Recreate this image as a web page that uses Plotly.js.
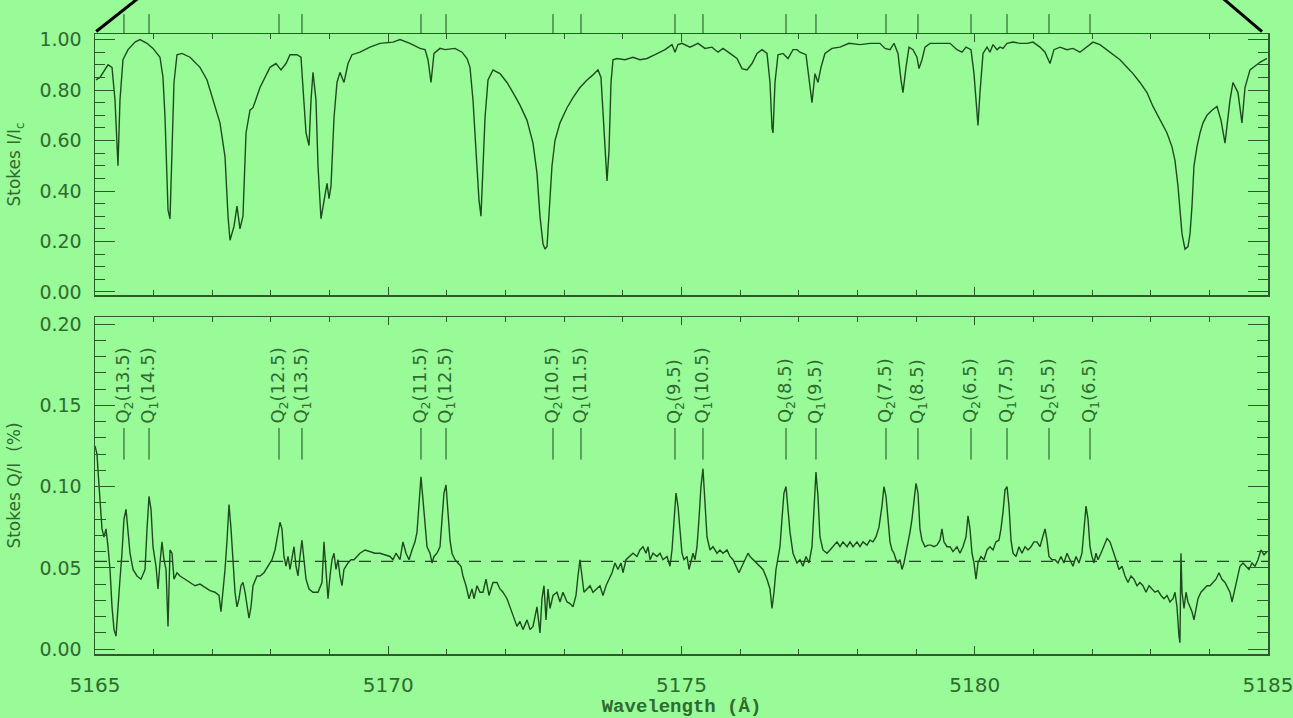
<!DOCTYPE html>
<html>
<head>
<meta charset="utf-8">
<script src="https://cdn.plot.ly/plotly-3.0.1.min.js"></script>
<style>html,body{margin:0;padding:0;background:palegreen;}</style>
</head>
<body>
<div id="chart" style="width:1293px;height:718px;"></div>
<script>
// ---- Stokes I / Ic (upper panel) ----
const topWl = [
5165.017,5165.085,5165.222,5165.290,5165.341,5165.392,5165.426,5165.477,5165.563,5165.682,
5165.767,5165.887,5165.989,5166.108,5166.159,5166.194,5166.245,5166.279,5166.313,5166.347,
5166.398,5166.483,5166.620,5166.790,5166.910,5167.012,5167.131,5167.217,5167.268,5167.302,
5167.370,5167.421,5167.472,5167.523,5167.575,5167.643,5167.694,5167.813,5167.984,5168.086,
5168.171,5168.257,5168.325,5168.444,5168.512,5168.546,5168.598,5168.649,5168.683,5168.717,
5168.768,5168.802,5168.853,5168.904,5168.956,5168.990,5169.024,5169.075,5169.126,5169.177,
5169.246,5169.314,5169.382,5169.518,5169.689,5169.859,5170.081,5170.200,5170.371,5170.541,
5170.627,5170.678,5170.729,5170.780,5170.882,5170.968,5171.138,5171.258,5171.343,5171.394,
5171.445,5171.496,5171.547,5171.581,5171.616,5171.650,5171.701,5171.786,5171.905,5172.025,
5172.127,5172.246,5172.366,5172.468,5172.536,5172.587,5172.639,5172.673,5172.707,5172.741,
5172.792,5172.843,5172.928,5173.048,5173.150,5173.269,5173.389,5173.491,5173.576,5173.627,
5173.679,5173.730,5173.764,5173.798,5173.832,5173.900,5174.036,5174.173,5174.292,5174.412,
5174.548,5174.719,5174.838,5174.889,5174.940,5175.008,5175.145,5175.281,5175.400,5175.520,
5175.622,5175.708,5175.827,5175.946,5176.032,5176.117,5176.202,5176.287,5176.373,5176.458,
5176.509,5176.543,5176.560,5176.594,5176.645,5176.730,5176.816,5176.901,5176.969,5177.020,
5177.123,5177.191,5177.225,5177.276,5177.327,5177.378,5177.446,5177.566,5177.702,5177.856,
5178.043,5178.214,5178.384,5178.470,5178.555,5178.623,5178.691,5178.742,5178.776,5178.828,
5178.879,5178.947,5179.015,5179.049,5179.100,5179.152,5179.237,5179.407,5179.578,5179.697,
5179.783,5179.851,5179.936,5179.987,5180.021,5180.055,5180.089,5180.141,5180.209,5180.260,
5180.311,5180.379,5180.430,5180.481,5180.550,5180.652,5180.771,5180.891,5180.993,5181.112,
5181.198,5181.283,5181.351,5181.453,5181.573,5181.675,5181.794,5181.914,5182.016,5182.135,
5182.255,5182.357,5182.476,5182.596,5182.698,5182.817,5182.937,5183.039,5183.158,5183.278,
5183.363,5183.414,5183.465,5183.499,5183.534,5183.585,5183.636,5183.670,5183.704,5183.738,
5183.789,5183.841,5183.892,5183.960,5184.045,5184.130,5184.199,5184.267,5184.352,5184.403,
5184.488,5184.556,5184.608,5184.693,5184.863,5184.983
];
const topI = [
0.84,0.85,0.90,0.89,0.76,0.50,0.76,0.92,0.96,0.99,
1.00,0.985,0.965,0.93,0.85,0.69,0.325,0.29,0.56,0.83,
0.94,0.945,0.93,0.89,0.84,0.76,0.67,0.535,0.30,0.205,
0.26,0.34,0.25,0.30,0.63,0.72,0.73,0.81,0.89,0.905,
0.88,0.905,0.94,0.94,0.93,0.81,0.63,0.58,0.76,0.87,
0.76,0.50,0.29,0.36,0.43,0.37,0.42,0.69,0.83,0.87,
0.83,0.905,0.94,0.95,0.97,0.985,0.99,1.00,0.985,0.965,
0.96,0.92,0.83,0.945,0.965,0.96,0.965,0.95,0.925,0.89,
0.76,0.56,0.365,0.30,0.50,0.69,0.84,0.88,0.865,0.83,
0.79,0.74,0.68,0.59,0.47,0.30,0.19,0.17,0.18,0.30,
0.50,0.60,0.67,0.73,0.77,0.81,0.84,0.86,0.88,0.85,
0.65,0.44,0.56,0.83,0.92,0.925,0.92,0.93,0.92,0.925,
0.94,0.96,0.98,0.95,0.98,0.985,0.97,0.985,0.965,0.97,
0.95,0.965,0.945,0.925,0.885,0.88,0.905,0.945,0.96,0.945,
0.83,0.65,0.63,0.83,0.94,0.945,0.925,0.96,0.96,0.95,
0.94,0.81,0.75,0.865,0.83,0.89,0.945,0.965,0.97,0.985,
0.98,0.985,0.985,0.965,0.96,0.985,0.945,0.84,0.79,0.89,
0.97,0.96,0.93,0.885,0.92,0.97,0.985,0.985,0.985,0.96,
0.95,0.97,0.96,0.865,0.76,0.66,0.79,0.945,0.97,0.95,
0.98,0.96,0.97,0.965,0.985,0.99,0.985,0.985,0.99,0.97,
0.95,0.905,0.96,0.97,0.96,0.965,0.95,0.97,0.99,0.98,
0.96,0.94,0.92,0.89,0.865,0.83,0.79,0.735,0.68,0.63,
0.575,0.52,0.42,0.34,0.23,0.17,0.18,0.23,0.34,0.50,
0.575,0.63,0.67,0.70,0.72,0.735,0.68,0.59,0.76,0.83,
0.79,0.67,0.81,0.88,0.91,0.925
];

// ---- Stokes Q / I in % (lower panel) ----
const botWl = [
5165.000,5165.034,5165.051,5165.085,5165.119,5165.153,5165.188,5165.222,5165.256,5165.290,
5165.324,5165.358,5165.392,5165.426,5165.460,5165.494,5165.529,5165.563,5165.597,5165.648,
5165.716,5165.784,5165.853,5165.887,5165.921,5165.955,5165.989,5166.040,5166.074,5166.108,
5166.142,5166.176,5166.211,5166.245,5166.279,5166.313,5166.347,5166.398,5166.449,5166.535,
5166.620,5166.705,5166.790,5166.876,5166.961,5167.046,5167.114,5167.148,5167.182,5167.217,
5167.251,5167.285,5167.319,5167.353,5167.387,5167.421,5167.455,5167.489,5167.523,5167.558,
5167.592,5167.626,5167.660,5167.694,5167.762,5167.813,5167.881,5167.950,5168.018,5168.069,
5168.103,5168.154,5168.188,5168.222,5168.257,5168.291,5168.325,5168.359,5168.393,5168.427,
5168.461,5168.495,5168.529,5168.563,5168.598,5168.649,5168.717,5168.802,5168.870,5168.904,
5168.938,5168.973,5169.007,5169.041,5169.075,5169.109,5169.143,5169.177,5169.211,5169.245,
5169.280,5169.314,5169.365,5169.416,5169.467,5169.518,5169.604,5169.689,5169.774,5169.859,
5169.945,5170.030,5170.081,5170.132,5170.200,5170.251,5170.303,5170.354,5170.405,5170.456,
5170.490,5170.524,5170.558,5170.592,5170.627,5170.661,5170.712,5170.746,5170.780,5170.831,
5170.882,5170.916,5170.950,5170.985,5171.019,5171.053,5171.087,5171.138,5171.189,5171.240,
5171.274,5171.326,5171.377,5171.428,5171.462,5171.513,5171.564,5171.615,5171.667,5171.718,
5171.786,5171.854,5171.905,5171.956,5172.025,5172.076,5172.127,5172.195,5172.246,5172.297,
5172.366,5172.417,5172.468,5172.536,5172.587,5172.621,5172.655,5172.690,5172.724,5172.758,
5172.809,5172.877,5172.928,5172.979,5173.048,5173.099,5173.150,5173.201,5173.235,5173.269,
5173.303,5173.337,5173.389,5173.440,5173.491,5173.559,5173.610,5173.661,5173.713,5173.764,
5173.815,5173.866,5173.917,5173.968,5174.002,5174.054,5174.122,5174.173,5174.241,5174.292,
5174.343,5174.395,5174.429,5174.463,5174.514,5174.582,5174.633,5174.684,5174.753,5174.804,
5174.838,5174.872,5174.906,5174.940,5174.974,5175.008,5175.042,5175.094,5175.128,5175.162,
5175.196,5175.230,5175.264,5175.298,5175.332,5175.366,5175.400,5175.435,5175.486,5175.537,
5175.605,5175.656,5175.707,5175.776,5175.827,5175.878,5175.929,5175.980,5176.031,5176.083,
5176.134,5176.168,5176.219,5176.287,5176.338,5176.389,5176.458,5176.509,5176.543,5176.577,
5176.611,5176.645,5176.679,5176.713,5176.747,5176.782,5176.816,5176.850,5176.901,5176.969,
5177.020,5177.071,5177.123,5177.174,5177.225,5177.259,5177.293,5177.327,5177.361,5177.412,
5177.481,5177.532,5177.583,5177.651,5177.702,5177.753,5177.822,5177.873,5177.924,5177.992,
5178.043,5178.094,5178.163,5178.214,5178.265,5178.316,5178.367,5178.418,5178.452,5178.487,
5178.521,5178.555,5178.589,5178.623,5178.657,5178.691,5178.725,5178.759,5178.793,5178.828,
5178.862,5178.896,5178.930,5178.964,5178.998,5179.032,5179.066,5179.100,5179.152,5179.203,
5179.254,5179.305,5179.356,5179.407,5179.441,5179.475,5179.527,5179.578,5179.629,5179.697,
5179.748,5179.799,5179.851,5179.885,5179.919,5179.953,5179.987,5180.021,5180.055,5180.106,
5180.157,5180.209,5180.260,5180.311,5180.362,5180.413,5180.447,5180.481,5180.516,5180.550,
5180.584,5180.618,5180.652,5180.703,5180.754,5180.805,5180.857,5180.908,5180.959,5181.010,
5181.061,5181.112,5181.163,5181.198,5181.232,5181.266,5181.317,5181.368,5181.419,5181.470,
5181.521,5181.573,5181.624,5181.675,5181.726,5181.777,5181.828,5181.862,5181.897,5181.931,
5181.965,5181.999,5182.033,5182.067,5182.101,5182.152,5182.203,5182.255,5182.306,5182.357,
5182.408,5182.459,5182.510,5182.562,5182.613,5182.664,5182.715,5182.766,5182.817,5182.868,
5182.920,5182.971,5183.022,5183.073,5183.124,5183.175,5183.226,5183.278,5183.329,5183.380,
5183.414,5183.448,5183.482,5183.499,5183.516,5183.534,5183.568,5183.602,5183.636,5183.670,
5183.704,5183.738,5183.772,5183.806,5183.857,5183.909,5183.960,5184.011,5184.062,5184.113,
5184.164,5184.215,5184.267,5184.318,5184.352,5184.386,5184.420,5184.454,5184.488,5184.522,
5184.573,5184.625,5184.676,5184.727,5184.778,5184.829,5184.880,5184.932,5184.983
];
const botQ = [
0.125,0.120,0.110,0.090,0.074,0.069,0.074,0.063,0.049,0.026,
0.012,0.008,0.023,0.043,0.059,0.080,0.086,0.074,0.059,0.049,
0.045,0.043,0.049,0.074,0.094,0.086,0.063,0.051,0.037,0.053,
0.066,0.055,0.049,0.014,0.061,0.059,0.043,0.047,0.045,0.043,
0.041,0.039,0.040,0.038,0.036,0.035,0.033,0.023,0.035,0.049,
0.067,0.089,0.074,0.053,0.035,0.026,0.031,0.039,0.041,0.035,
0.026,0.019,0.026,0.039,0.045,0.045,0.047,0.051,0.055,0.061,
0.069,0.078,0.074,0.057,0.051,0.057,0.049,0.057,0.063,0.051,
0.045,0.057,0.067,0.055,0.043,0.037,0.035,0.035,0.041,0.066,
0.047,0.031,0.045,0.055,0.059,0.049,0.055,0.045,0.039,0.049,
0.051,0.053,0.055,0.055,0.057,0.059,0.061,0.060,0.059,0.059,
0.058,0.057,0.055,0.059,0.055,0.066,0.059,0.055,0.061,0.066,
0.072,0.088,0.106,0.092,0.074,0.063,0.059,0.053,0.057,0.059,
0.063,0.080,0.096,0.101,0.084,0.067,0.059,0.055,0.053,0.051,
0.045,0.039,0.031,0.037,0.031,0.039,0.035,0.035,0.043,0.033,
0.041,0.041,0.037,0.035,0.031,0.026,0.020,0.014,0.017,0.012,
0.018,0.012,0.014,0.026,0.010,0.031,0.039,0.018,0.037,0.025,
0.033,0.035,0.029,0.035,0.029,0.028,0.026,0.033,0.045,0.055,
0.045,0.035,0.037,0.039,0.035,0.037,0.039,0.033,0.039,0.043,
0.047,0.053,0.049,0.053,0.047,0.055,0.057,0.059,0.057,0.061,
0.063,0.059,0.063,0.055,0.059,0.057,0.059,0.055,0.057,0.051,
0.061,0.080,0.096,0.088,0.074,0.059,0.055,0.057,0.049,0.055,
0.059,0.055,0.063,0.080,0.100,0.111,0.090,0.069,0.061,0.063,
0.059,0.061,0.059,0.061,0.057,0.055,0.051,0.047,0.051,0.055,
0.059,0.057,0.055,0.053,0.051,0.049,0.043,0.037,0.025,0.035,
0.049,0.057,0.063,0.080,0.096,0.100,0.088,0.072,0.059,0.053,
0.055,0.051,0.057,0.053,0.063,0.084,0.109,0.094,0.069,0.061,
0.059,0.061,0.063,0.066,0.063,0.066,0.063,0.066,0.063,0.066,
0.063,0.066,0.064,0.067,0.066,0.069,0.075,0.088,0.100,0.094,
0.080,0.066,0.061,0.059,0.055,0.053,0.055,0.049,0.053,0.059,
0.066,0.072,0.080,0.092,0.102,0.096,0.074,0.067,0.063,0.064,
0.064,0.063,0.064,0.067,0.074,0.066,0.063,0.063,0.060,0.063,
0.059,0.063,0.069,0.082,0.074,0.059,0.053,0.043,0.053,0.057,
0.055,0.061,0.063,0.061,0.066,0.067,0.074,0.084,0.098,0.100,
0.088,0.067,0.059,0.057,0.063,0.059,0.063,0.061,0.063,0.066,
0.066,0.063,0.069,0.074,0.067,0.057,0.055,0.055,0.053,0.057,
0.053,0.059,0.055,0.051,0.057,0.053,0.059,0.074,0.088,0.080,
0.063,0.057,0.053,0.059,0.055,0.059,0.063,0.068,0.066,0.061,
0.055,0.049,0.051,0.045,0.041,0.045,0.043,0.039,0.041,0.039,
0.035,0.039,0.037,0.035,0.036,0.033,0.031,0.033,0.029,0.031,
0.035,0.026,0.008,0.004,0.059,0.035,0.025,0.035,0.029,0.026,
0.023,0.018,0.025,0.031,0.035,0.037,0.039,0.039,0.041,0.043,
0.047,0.043,0.041,0.037,0.035,0.029,0.035,0.039,0.047,0.051,
0.053,0.051,0.049,0.053,0.051,0.055,0.061,0.058,0.060
];

// mean polarization level (dashed line)
const meanQ = 0.054;

// ---- C2 line identifications ----
const lineWl = [5165.494,5165.921,5168.137,5168.529,5170.558,5170.985,5172.809,5173.286,5174.889,
                5175.366,5176.782,5177.293,5178.487,5179.032,5179.936,5180.550,5181.266,5181.965];
const lineBranch = ['2','1','2','1','2','1','2','1','2','1','2','1','2','1','2','1','2','1'];
const lineJ = ['13.5','14.5','12.5','13.5','11.5','12.5','10.5','11.5','9.5',
               '10.5','8.5','9.5','7.5','8.5','6.5','7.5','5.5','6.5'];

const LINE = '#1f4a1f';
const TXT = '#2f6a2f';
const AX = '#2d5a2d';

const markX = [], markY = [];
lineWl.forEach(w => { markX.push(w, w, null); markY.push(0.1166, 0.136, null); });

const traces = [
  {x: topWl, y: topI, xaxis:'x', yaxis:'y', mode:'lines', line:{color:LINE, width:1.4}, hoverinfo:'skip'},
  {x: botWl, y: botQ, xaxis:'x2', yaxis:'y2', mode:'lines', line:{color:LINE, width:1.4}, hoverinfo:'skip'},
  {x: markX, y: markY, xaxis:'x2', yaxis:'y2', mode:'lines', line:{color:LINE, width:1}, hoverinfo:'skip'}
];

const annotations = lineWl.map((w, i) => ({
  x: w, y: 0.1375, xref:'x2', yref:'y2', showarrow:false,
  text: 'Q<sub>' + lineBranch[i] + '</sub>(' + lineJ[i] + ')',
  textangle: -90, xanchor:'center', yanchor:'bottom',
  font:{family:'DejaVu Sans', size:18, color:TXT}
}));

const shapes = [
  {type:'line', xref:'x2', yref:'y2', x0:5165, x1:5185, y0:meanQ, y1:meanQ,
   line:{color:LINE, width:1.2, dash:'12px,10px'}},
  {type:'line', xref:'paper', yref:'paper', x0:0.001, y0:1.004, x1:0.0384, y1:1.06,
   line:{color:'black', width:3}},
  {type:'line', xref:'paper', yref:'paper', x0:0.9949, y0:1.004, x1:0.9600, y1:1.06,
   line:{color:'black', width:3}}
];
lineWl.forEach(w => shapes.push({type:'line', xref:'x', yref:'paper', x0:w, x1:w, y0:1.0, y1:1.032,
  line:{color:LINE, width:1}}));

const tickFont = {family:'DejaVu Sans', size:19, color:TXT};
const common = {showgrid:false, zeroline:false, showline:true, linecolor:AX, linewidth:1.5,
  mirror:'ticks', ticks:'inside', tickcolor:AX};
const xTicks = [5165, 5170, 5175, 5180, 5185];

const layout = {
  width:1293, height:718,
  paper_bgcolor:'palegreen', plot_bgcolor:'palegreen',
  margin:{l:95, r:25, t:34, b:64},
  showlegend:false,
  xaxis: Object.assign({}, common, {domain:[0,1], anchor:'y', range:[5165,5185], tickmode:'array', tickvals:xTicks,
    ticklen:8, showticklabels:false, minor:{dtick:1, tick0:5165, ticklen:5, ticks:'inside', tickcolor:AX}}),
  yaxis: Object.assign({}, common, {domain:[0.579,1], anchor:'x', range:[-0.012,1.022], dtick:0.2, tick0:0,
    tickformat:'.2f', ticklen:20, ticklabelstandoff:8, tickfont:tickFont,
    minor:{dtick:0.05, ticklen:10, ticks:'inside', tickcolor:AX},
    title:{text:'Stokes I/I<sub>c</sub>', standoff:14, font:{family:'DejaVu Sans', size:17, color:TXT}}}),
  xaxis2: Object.assign({}, common, {domain:[0,1], anchor:'y2', range:[5165,5185], tickmode:'array', tickvals:xTicks,
    ticktext:xTicks.map(String), ticklen:8, ticklabelstandoff:12, ticklabeloverflow:'allow',
    tickfont:Object.assign({}, tickFont, {size:20}),
    minor:{dtick:1, tick0:5165, ticklen:5, ticks:'inside', tickcolor:AX},
    title:{text:'Wavelength (Å)', standoff:4, font:{family:'Liberation Mono', size:19, color:TXT, weight:'bold'}}}),
  yaxis2: Object.assign({}, common, {domain:[0,0.5435], anchor:'x2', range:[-0.003,0.2043], dtick:0.05, tick0:0,
    tickformat:'.2f', ticklen:20, ticklabelstandoff:8, tickfont:tickFont,
    minor:{dtick:0.01, ticklen:11, ticks:'inside', tickcolor:AX},
    title:{text:'Stokes Q/I&nbsp;&nbsp;(%)', standoff:14, font:{family:'DejaVu Sans', size:17, color:TXT}}}),
  annotations: annotations,
  shapes: shapes
};

Plotly.newPlot('chart', traces, layout, {staticPlot:true, displayModeBar:false});
</script>
</body>
</html>
